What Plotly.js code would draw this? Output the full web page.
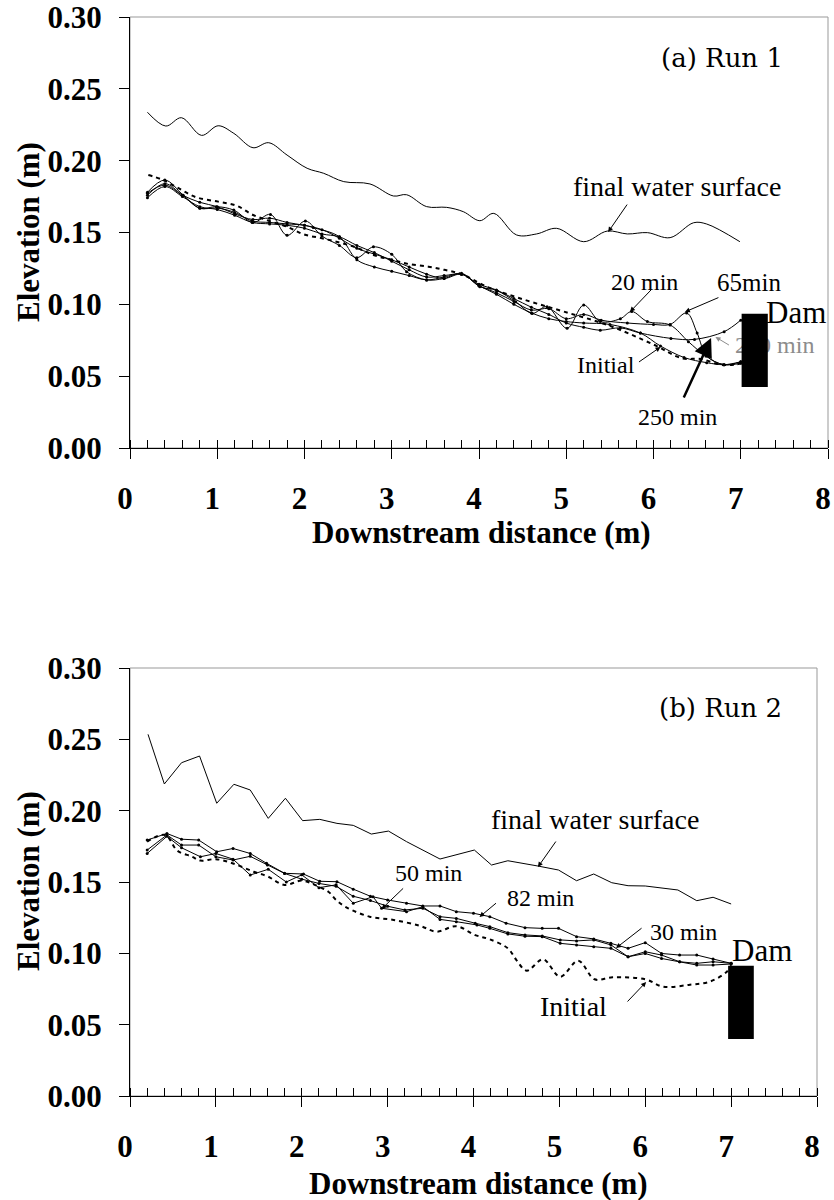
<!DOCTYPE html>
<html>
<head>
<meta charset="utf-8">
<script src="https://cdn.plot.ly/plotly-3.0.1.min.js"></script>
<style>html,body{margin:0;padding:0;background:#fff;}#chart{width:834px;height:1200px;}</style>
</head>
<body>
<div id="chart"></div>
<script>
// ---------- (a) Run 1 ----------
const runA_surfX = [0.20,0.41,0.59,0.82,1.01,1.19,1.41,1.59,1.80,2.03,2.22,2.45,2.75,3.02,3.17,3.40,3.63,3.82,4.01,4.17,4.43,4.66,4.89,5.20,5.47,5.70,5.93,6.19,6.46,6.61,6.99];
const runA_surfY = [0.2337,0.2241,0.2299,0.2176,0.2243,0.2190,0.2090,0.2125,0.2039,0.1947,0.1912,0.1854,0.1838,0.1754,0.1763,0.1680,0.1675,0.1645,0.1582,0.1633,0.1483,0.1490,0.1529,0.1436,0.1510,0.1490,0.1499,0.1464,0.1568,0.1559,0.1436];

const runA_initX = [0.21,0.36,0.55,0.76,1.01,1.22,1.41,1.60,1.80,1.99,2.20,2.40,2.60,2.79,3.00,3.20,3.42,3.60,3.80,4.10,4.53,4.97,5.50,6.00,6.33,6.54,6.77,6.92,7.01];
const runA_initY = [0.190,0.187,0.181,0.1745,0.1715,0.1687,0.1622,0.158,0.154,0.1487,0.146,0.143,0.1394,0.1343,0.131,0.128,0.1262,0.124,0.121,0.112,0.103,0.095,0.085,0.072,0.0624,0.062,0.058,0.058,0.059];

const runA_20X = [0.2,0.4,0.61,0.8,0.99,1.19,1.41,1.61,1.80,2.01,2.20,2.40,2.60,2.79,3.00,3.17,3.40,3.60,3.80,4.01,4.20,4.42,4.61,4.78,5.01,5.20,5.39,5.62,5.75,5.93,6.19,6.40,6.60,6.80,7.00];
const runA_20Y = [0.178,0.1865,0.176,0.1668,0.168,0.1656,0.157,0.1626,0.148,0.158,0.1475,0.141,0.1325,0.140,0.1348,0.1227,0.117,0.118,0.1216,0.1123,0.1097,0.1018,0.0937,0.0984,0.0833,0.0995,0.088,0.090,0.095,0.088,0.0856,0.074,0.064,0.058,0.060];

const runA_65X = [0.2,0.4,0.6,0.8,1.0,1.2,1.41,1.6,1.8,2.0,2.2,2.4,2.6,2.8,3.0,3.2,3.4,3.6,3.8,4.0,4.2,4.4,4.6,4.8,5.0,5.2,5.4,5.7,6.0,6.19,6.38,6.5,6.61,6.81,7.0];
const runA_65Y = [0.1773,0.183,0.176,0.171,0.168,0.163,0.159,0.160,0.157,0.155,0.152,0.146,0.139,0.135,0.131,0.126,0.121,0.118,0.121,0.113,0.108,0.102,0.096,0.097,0.090,0.093,0.089,0.087,0.086,0.086,0.094,0.080,0.064,0.058,0.059];

const runA_200X = [0.2,0.4,0.6,0.8,1.0,1.2,1.4,1.6,1.8,2.0,2.2,2.4,2.6,2.8,3.0,3.2,3.4,3.6,3.8,4.0,4.2,4.4,4.6,4.8,5.0,5.2,5.39,5.62,5.85,6.2,6.47,6.81,7.0];
const runA_200Y = [0.1742,0.182,0.175,0.168,0.166,0.162,0.157,0.156,0.155,0.153,0.149,0.147,0.141,0.136,0.130,0.124,0.119,0.120,0.121,0.114,0.110,0.104,0.098,0.093,0.087,0.084,0.082,0.0836,0.080,0.0763,0.0756,0.081,0.089];

const runA_250X = [0.2,0.4,0.6,0.8,1.0,1.2,1.4,1.6,1.8,2.0,2.1,2.4,2.6,2.8,3.0,3.2,3.4,3.6,3.8,4.0,4.2,4.4,4.6,4.8,5.0,5.2,5.5,5.85,6.08,6.35,6.61,6.81,7.0];
const runA_250Y = [0.176,0.184,0.176,0.167,0.167,0.164,0.158,0.157,0.156,0.155,0.1534,0.147,0.131,0.126,0.123,0.120,0.117,0.119,0.121,0.113,0.107,0.100,0.094,0.090,0.088,0.087,0.086,0.080,0.071,0.063,0.0594,0.058,0.060];

// dam block (left, right, bottom, top)
const runA_dam = {left: 7.01, right: 7.31, bottom: 0.0425, top: 0.0935};

// ---------- (b) Run 2 ----------
const runB_surfX = [0.21,0.40,0.60,0.81,1.01,1.21,1.40,1.61,1.81,2.01,2.21,2.41,2.60,2.81,3.01,3.22,3.61,3.80,4.01,4.21,4.40,4.75,4.99,5.20,5.40,5.61,5.80,6.00,6.38,6.60,6.79,7.00];
const runB_surfY = [0.2535,0.2187,0.2336,0.2383,0.2052,0.2185,0.2145,0.1946,0.2087,0.1930,0.1939,0.1911,0.1897,0.1836,0.1857,0.1783,0.1661,0.1689,0.1724,0.1619,0.1649,0.1612,0.1584,0.1509,0.1556,0.1495,0.1474,0.1472,0.1444,0.1369,0.1393,0.1346];

const runB_initX = [0.20,0.41,0.55,0.72,0.82,1.0,1.2,1.44,1.6,1.80,2.0,2.15,2.31,2.40,2.52,2.79,3.07,3.38,3.57,3.80,4.02,4.19,4.40,4.50,4.62,4.81,5.01,5.22,5.41,5.62,6.00,6.21,6.52,6.75,6.95,7.0];
const runB_initY = [0.1783,0.183,0.172,0.1678,0.165,0.166,0.163,0.1572,0.154,0.1479,0.151,0.148,0.1432,0.1374,0.1322,0.1257,0.1234,0.1192,0.1152,0.119,0.1128,0.1098,0.1035,0.0953,0.0878,0.0958,0.0836,0.0948,0.0818,0.0832,0.0818,0.0766,0.078,0.0801,0.0871,0.0916];

const runB_82X = [0.2,0.43,0.6,0.8,1.01,1.2,1.4,1.59,1.8,2.02,2.21,2.41,2.6,2.8,3.0,3.22,3.41,3.61,3.8,4.0,4.19,4.38,4.6,4.8,4.99,5.2,5.4,5.6,5.8,6.0,6.19,6.4,6.6,6.79,7.0];
const runB_82Y = [0.1794,0.184,0.180,0.1794,0.1712,0.1735,0.170,0.1631,0.1561,0.1556,0.1505,0.1502,0.145,0.140,0.1374,0.1351,0.1332,0.1332,0.1292,0.1281,0.1257,0.1211,0.118,0.1175,0.1175,0.1117,0.1101,0.107,0.1035,0.1075,0.0999,0.0988,0.0988,0.096,0.093];

const runB_30X = [0.2,0.43,0.6,0.8,1.0,1.2,1.4,1.6,1.8,2.0,2.2,2.4,2.6,2.8,3.0,3.2,3.41,3.61,3.8,4.02,4.19,4.4,4.6,4.8,5.01,5.2,5.4,5.6,5.8,6.0,6.19,6.4,6.6,6.79,7.0];
const runB_30Y = [0.1724,0.183,0.1759,0.1759,0.1677,0.1654,0.168,0.162,0.156,0.152,0.149,0.147,0.140,0.137,0.133,0.1304,0.1316,0.1257,0.1245,0.1211,0.1187,0.1145,0.1129,0.1122,0.1094,0.1087,0.1094,0.1059,0.0976,0.1011,0.0988,0.0941,0.093,0.0941,0.093];

const runB_50X = [0.2,0.43,0.6,0.82,1.0,1.2,1.4,1.61,1.82,2.0,2.2,2.4,2.6,2.83,2.93,3.22,3.41,3.61,3.8,4.04,4.19,4.4,4.6,4.8,5.01,5.2,5.4,5.6,5.8,6.0,6.19,6.4,6.6,6.79,7.0];
const runB_50Y = [0.170,0.182,0.174,0.1677,0.170,0.166,0.1549,0.1589,0.150,0.155,0.146,0.148,0.1351,0.1397,0.1316,0.1292,0.1327,0.1238,0.1222,0.1199,0.1175,0.1136,0.112,0.1117,0.107,0.1059,0.1047,0.1035,0.0976,0.0999,0.0964,0.0941,0.0918,0.0918,0.0925];

const runB_dam = {left: 6.965, right: 7.264, bottom: 0.040, top: 0.0913};

const yTickVals = [0, 0.05, 0.10, 0.15, 0.20, 0.25, 0.30];
const xTickVals = [0, 1, 2, 3, 4, 5, 6, 7, 8];
const xTickText = ['0', '1', '2', '3', '4', '5', '6', '7', '8'];

// ---------- traces ----------
const SERIF = 'Liberation Serif';
function surf(x, y, xa, ya, shape) {
  return {x, y, xaxis: xa, yaxis: ya, type: 'scatter', mode: 'lines',
    line: {color: '#000', width: 1, shape: shape, smoothing: 1}, hoverinfo: 'skip'};
}
function prof(x, y, xa, ya, shape) {
  return {x, y, xaxis: xa, yaxis: ya, type: 'scatter', mode: 'lines+markers',
    line: {color: '#000', width: 1, shape: shape, smoothing: 1},
    marker: {color: '#000', size: 3}, hoverinfo: 'skip'};
}
function init(x, y, xa, ya, shape) {
  return {x, y, xaxis: xa, yaxis: ya, type: 'scatter', mode: 'lines',
    line: {color: '#000', width: 2, dash: '4px,4px', shape: shape, smoothing: 1}, hoverinfo: 'skip'};
}
function dam(d, xa, ya) {
  return {x: [d.left, d.right, d.right, d.left, d.left], y: [d.bottom, d.bottom, d.top, d.top, d.bottom],
    xaxis: xa, yaxis: ya, type: 'scatter', mode: 'lines', fill: 'toself', fillcolor: '#000',
    line: {color: '#000', width: 0}, hoverinfo: 'skip'};
}

const traces = [
  surf(runA_surfX, runA_surfY, 'x', 'y', 'spline'),
  init(runA_initX, runA_initY, 'x', 'y', 'spline'),
  prof(runA_20X, runA_20Y, 'x', 'y', 'spline'),
  prof(runA_65X, runA_65Y, 'x', 'y', 'spline'),
  prof(runA_200X, runA_200Y, 'x', 'y', 'spline'),
  prof(runA_250X, runA_250Y, 'x', 'y', 'spline'),
  {x: [7.39], y: [0.0703], text: ['200 min'], mode: 'text', type: 'scatter', xaxis: 'x', yaxis: 'y',
   textposition: 'middle center', textfont: {family: SERIF, size: 24, color: '#8c8c8c'}, hoverinfo: 'skip', cliponaxis: false},
  dam(runA_dam, 'x', 'y'),

  surf(runB_surfX, runB_surfY, 'x2', 'y2', 'linear'),
  init(runB_initX, runB_initY, 'x2', 'y2', 'spline'),
  prof(runB_82X, runB_82Y, 'x2', 'y2', 'linear'),
  prof(runB_30X, runB_30Y, 'x2', 'y2', 'linear'),
  prof(runB_50X, runB_50Y, 'x2', 'y2', 'linear'),
  dam(runB_dam, 'x2', 'y2')
];

// ---------- axes ----------
const tickFont = {family: SERIF, size: 31, color: '#000', weight: 'bold'};
function xAxis(domain, anchor) {
  return {domain, anchor, range: [0, 8], tickvals: xTickVals, ticktext: xTickText,
    ticks: 'outside', ticklen: 10, tickwidth: 1, tickcolor: '#000',
    minor: {dtick: 0.2, tick0: 0, ticks: 'inside', ticklen: 8, tickwidth: 1, tickcolor: '#000', showgrid: false},
    showline: true, linecolor: '#000', linewidth: 1, showgrid: false, zeroline: false,
    tickfont: tickFont, ticklabelstandoff: 13, ticklabelshift: -5, ticklabeloverflow: 'allow', automargin: false, fixedrange: true};
}
function yAxis(domain, anchor) {
  return {domain, anchor, range: [0, 0.30], tickvals: yTickVals, tickformat: '.2f',
    ticks: 'outside', ticklen: 10, tickwidth: 1, tickcolor: '#000',
    showline: true, linecolor: '#000', linewidth: 1, showgrid: false, zeroline: false,
    tickfont: tickFont, ticklabelstandoff: 11, ticklabeloverflow: 'allow', automargin: false, fixedrange: true};
}

const W = 834, H = 1200;
const layout = {
  width: W, height: H,
  margin: {l: 0, r: 0, t: 0, b: 0},
  paper_bgcolor: '#fff', plot_bgcolor: '#fff',
  showlegend: false, hovermode: false,
  xaxis: xAxis([130 / W, 828 / W], 'y'),
  yaxis: yAxis([1 - 448 / H, 1 - 17 / H], 'x'),
  xaxis2: xAxis([130 / W, 817 / W], 'y2'),
  yaxis2: yAxis([1 - 1096 / H, 1 - 668 / H], 'x2'),
  shapes: [
    {type: 'rect', xref: 'x domain', yref: 'y domain', x0: 0, x1: 1, y0: 0, y1: 1, layer: 'below', line: {color: '#999', width: 1}},
    {type: 'rect', xref: 'x2 domain', yref: 'y2 domain', x0: 0, x1: 1, y0: 0, y1: 1, layer: 'below', line: {color: '#999', width: 1}}
  ],
  annotations: []
};

function lbl(xr, yr, x, y, text, size, family, color) {
  layout.annotations.push({xref: xr, yref: yr, x, y, text, showarrow: false,
    xanchor: 'center', yanchor: 'middle',
    font: {family: family || SERIF, size: size || 24, color: color || '#000'}});
}
function arr(xr, yr, x, y, ax, ay, width, size, color) {
  layout.annotations.push({xref: xr, yref: yr, x, y, ax, ay, text: '', showarrow: true,
    arrowhead: 2, arrowsize: size || 1, arrowwidth: width || 1, arrowcolor: color || '#000'});
}
// axis titles
const titleFont = {family: SERIF, size: 31, color: '#000', weight: 'bold'};
layout.annotations.push({xref: 'paper', yref: 'paper', x: 481 / W, y: 1 - 533 / H, text: 'Downstream distance (m)', showarrow: false, xanchor: 'center', yanchor: 'middle', font: titleFont});
layout.annotations.push({xref: 'paper', yref: 'paper', x: 478 / W, y: 1 - 1183 / H, text: 'Downstream distance (m)', showarrow: false, xanchor: 'center', yanchor: 'middle', font: titleFont});
layout.annotations.push({xref: 'paper', yref: 'paper', x: 28 / W, y: 1 - 232 / H, text: 'Elevation (m)', textangle: -90, showarrow: false, xanchor: 'center', yanchor: 'middle', font: titleFont});
layout.annotations.push({xref: 'paper', yref: 'paper', x: 28 / W, y: 1 - 881 / H, text: 'Elevation (m)', textangle: -90, showarrow: false, xanchor: 'center', yanchor: 'middle', font: titleFont});

// panel (a)
lbl('x', 'y', 6.78, 0.2718, '(a) Run 1', 26, 'DejaVu Serif');
lbl('x', 'y', 6.27, 0.182, 'final water surface', 28);
arr('x', 'y', 5.48, 0.1503, 20, -29);
lbl('x', 'y', 5.90, 0.1155, '20 min', 24);
arr('x', 'y', 5.73, 0.0947, 23, -24);
lbl('x', 'y', 7.10, 0.1155, '65min', 25);
arr('x', 'y', 6.36, 0.0947, 35, -15);
lbl('x', 'y', 7.63, 0.094, 'Dam', 31);
arr('x', 'y', 6.71, 0.0773, 15, 9, 1, 1, '#8c8c8c');
lbl('x', 'y', 5.45, 0.0578, 'Initial', 24);
arr('x', 'y', 6.08, 0.0703, -23, 16);
lbl('x', 'y', 6.28, 0.0216, '250 min', 24);
arr('x', 'y', 6.66, 0.0765, -28, 61, 2.5, 1.5);

// panel (b)
lbl('x2', 'y2', 6.88, 0.2719, '(b) Run 2', 26, 'DejaVu Serif');
lbl('x2', 'y2', 5.42, 0.1935, 'final water surface', 28);
arr('x2', 'y2', 4.75, 0.1605, 19, -27);
lbl('x2', 'y2', 3.475, 0.1563, '50 min', 24);
arr('x2', 'y2', 2.93, 0.1311, 23, -22);
lbl('x2', 'y2', 4.78, 0.1388, '82 min', 24);
arr('x2', 'y2', 4.07, 0.1255, 18, -15);
lbl('x2', 'y2', 6.45, 0.115, '30 min', 24);
arr('x2', 'y2', 5.66, 0.1037, 27, -21);
lbl('x2', 'y2', 7.36, 0.1023, 'Dam', 31);
lbl('x2', 'y2', 5.17, 0.0624, 'Initial', 28);
arr('x2', 'y2', 6.01, 0.0799, -20, 21);

Plotly.newPlot('chart', traces, layout, {displayModeBar: false, staticPlot: true});
</script>
</body>
</html>
